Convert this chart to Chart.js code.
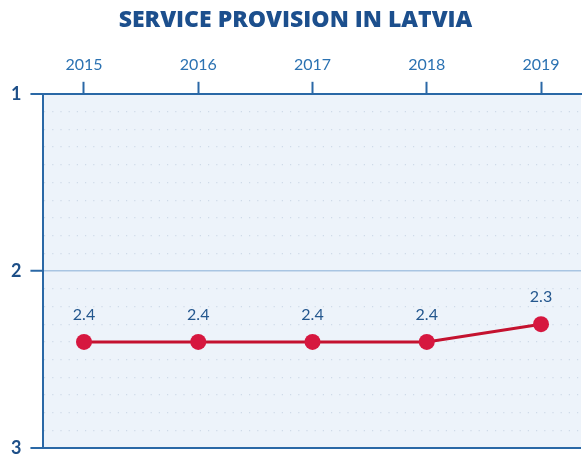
<!DOCTYPE html>
<html>
<head>
<meta charset="utf-8">
<script src="https://cdn.jsdelivr.net/npm/chart.js@4"></script>
<style>
    html, body { margin: 0; padding: 0; background: #fff; overflow: hidden; }
    #wrap { width: 589px; height: 468px; position: relative; }
</style>
</head>
<body>
<div id="wrap"><canvas id="linegraph"></canvas></div>
<script>
"use strict"
var years = [2015, 2016, 2017, 2018, 2019];
var scores = [2.4, 2.4, 2.4, 2.4, 2.3];
var yTickLabels = [1, 2, 3];

var axisBlue = '#2a68a6';

function isWhole(v) {
    return Math.abs(v - Math.round(v)) < 1e-6;
}

var plotBackground = {
    id: 'plotBackground',
    beforeDraw: function(chart) {
        var a = chart.chartArea, ctx = chart.ctx;
        ctx.save();
        ctx.fillStyle = '#edf3fa';
        ctx.fillRect(a.left, a.top, a.right - a.left, a.bottom - a.top);
        ctx.restore();
    }
};

var valueLabels = {
    id: 'valueLabels',
    afterDatasetsDraw: function(chart) {
        var ctx = chart.ctx;
        var meta = chart.getDatasetMeta(0);
        ctx.save();
        ctx.font = '16px Lato';
        ctx.fillStyle = '#24578e';
        ctx.textAlign = 'center';
        ctx.textBaseline = 'bottom';
        meta.data.forEach(function(pt, i) {
            ctx.fillText(String(scores[i]), pt.x, pt.y - 19);
        });
        ctx.restore();
    }
};

var ctx = document.getElementById('linegraph');
var linegraph = new Chart(ctx, {
    type: 'line',
    data: {
        datasets: [{
            data: years.map(function(y, i) { return { x: y, y: scores[i] }; }),
            borderColor: '#c4122f',
            borderWidth: 3,
            pointRadius: 8,
            pointHoverRadius: 8,
            pointBackgroundColor: '#d6173f',
            pointBorderWidth: 0,
            tension: 0
        }]
    },
    options: {
        responsive: true,
        maintainAspectRatio: false,
        animation: false,
        layout: { padding: { left: 2, right: 0, top: 0, bottom: 0 } },
        plugins: {
            legend: { display: false },
            tooltip: { enabled: false },
            title: {
                display: true,
                text: 'SERVICE PROVISION IN LATVIA',
                color: '#1c4f8d',
                font: { family: 'Open Sans', size: 23, weight: '800' },
                padding: { top: 7, bottom: 14 }
            }
        },
        scales: {
            x: {
                type: 'linear',
                position: 'top',
                min: 2014.645,
                max: 2019.35,
                afterBuildTicks: function(scale) {
                    scale.ticks = years.map(function(y) { return { value: y }; });
                },
                ticks: {
                    color: '#2b72b2',
                    font: { family: 'Lato', size: 16 },
                    padding: 7,
                    callback: function(v) { return String(v); }
                },
                grid: {
                    drawOnChartArea: false,
                    tickLength: 12,
                    tickWidth: 2,
                    tickColor: axisBlue
                },
                border: { color: axisBlue, width: 2 }
            },
            y: {
                reverse: true,
                min: 1,
                max: 3,
                ticks: {
                    stepSize: 0.1,
                    autoSkip: false,
                    color: '#1d4f88',
                    font: { family: 'Lato', size: 18, weight: 'bold' },
                    padding: 9,
                    callback: function(v) {
                        return yTickLabels.indexOf(Math.round(v)) >= 0 && isWhole(v) ? String(Math.round(v)) : '';
                    }
                },
                grid: {
                    tickLength: 13,
                    tickWidth: 2,
                    tickColor: function(c) {
                        return isWhole(c.tick.value) ? axisBlue : 'rgba(0,0,0,0)';
                    },
                    color: function(c) {
                        var v = c.tick.value;
                        if (isWhole(v)) return Math.round(v) === 2 ? '#a9c5e2' : axisBlue;
                        return '#cfdae8';
                    },
                    lineWidth: function(c) {
                        var v = c.tick.value;
                        if (isWhole(v)) return Math.round(v) === 2 ? 1.5 : 2;
                        return 1.2;
                    }
                },
                border: {
                    color: axisBlue,
                    width: 2,
                    dash: function(c) {
                        if (!c.tick) return [];
                        return isWhole(c.tick.value) ? [] : [1.2, 7];
                    }
                }
            }
        }
    },
    plugins: [plotBackground, valueLabels]
});
</script>
</body>
</html>
